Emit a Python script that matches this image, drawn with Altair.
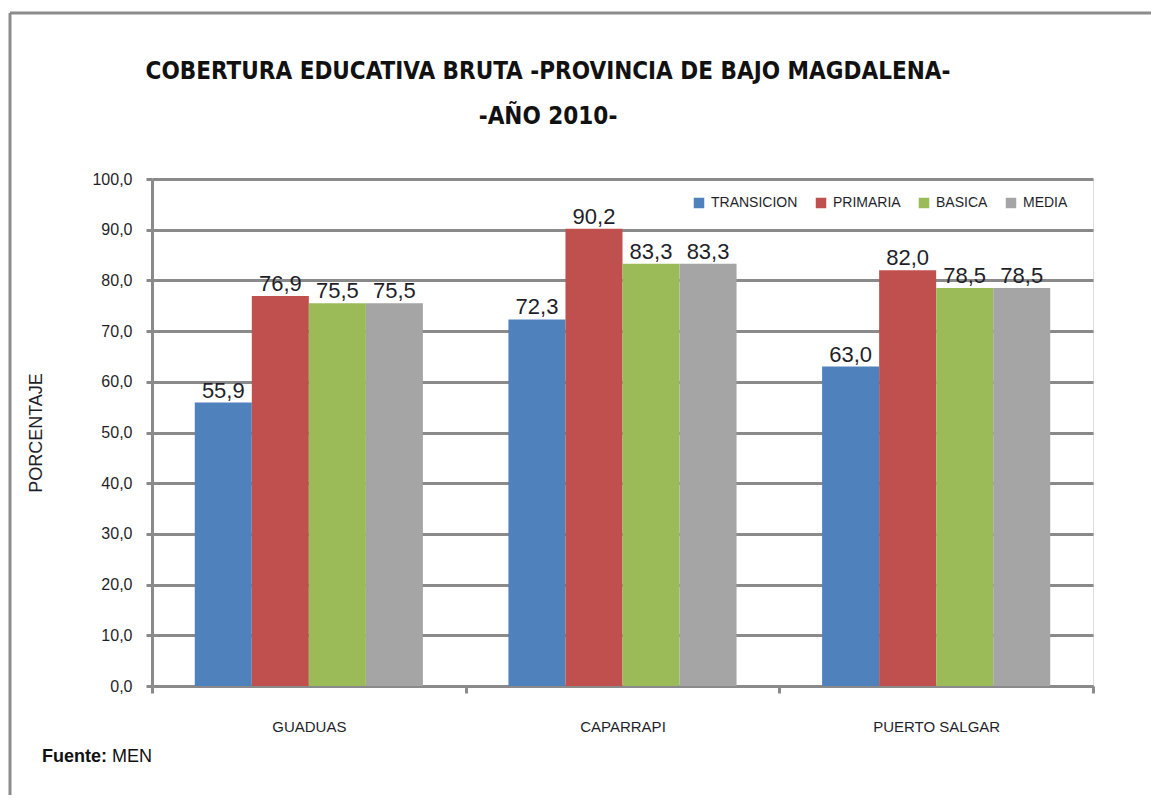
import altair as alt
import pandas as pd

municipios = ["GUADUAS", "CAPARRAPI", "PUERTO SALGAR"]
niveles = ["TRANSICION", "PRIMARIA", "BASICA", "MEDIA"]
transicion = [55.9, 72.3, 63.0]
primaria = [76.9, 90.2, 82.0]
basica = [75.5, 83.3, 78.5]
media = [75.5, 83.3, 78.5]
colores = ["#4F81BD", "#C0504D", "#9BBB59", "#A5A5A5"]
y_ticks = [0, 10, 20, 30, 40, 50, 60, 70, 80, 90, 100]
titulo = ["COBERTURA EDUCATIVA  BRUTA -PROVINCIA  DE BAJO MAGDALENA-", "-AÑO 2010-"]

rows = []
for i, m in enumerate(municipios):
    for n, vals in zip(niveles, [transicion, primaria, basica, media]):
        rows.append({"municipio": m, "nivel": n, "valor": vals[i]})
df = pd.DataFrame(rows)

FONT = "Liberation Sans, sans-serif"
TFONT = "DejaVu Sans Condensed, Liberation Sans, sans-serif"
TXT = "#1f1f2a"
GRID = "#8a8a8a"

base = alt.Chart(df).transform_calculate(
    lbl="replace(format(datum.valor, '.1f'), '.', ',')"
).encode(
    x=alt.X("municipio:N", sort=municipios,
            scale=alt.Scale(paddingInner=0, paddingOuter=0),
            axis=alt.Axis(title=None, labelAngle=0, tickBand="extent",
                          labelFont=FONT, labelFontSize=15, labelColor=TXT,
                          labelPadding=26, tickSize=7, tickColor=GRID, tickWidth=3,
                          domainColor=GRID, domainWidth=3)),
    xOffset=alt.XOffset("nivel:N", sort=niveles,
                        scale=alt.Scale(paddingInner=0, paddingOuter=0.75)),
    y=alt.Y("valor:Q", scale=alt.Scale(domain=[0, 100], nice=False),
            axis=alt.Axis(title="PORCENTAJE", values=y_ticks,
                          labelExpr="replace(format(datum.value, '.1f'), '.', ',')",
                          labelFont=FONT, labelFontSize=16, labelColor=TXT, labelPadding=14,
                          tickSize=6, tickColor=GRID, tickWidth=3,
                          domainColor=GRID, domainWidth=3,
                          grid=True, gridColor=GRID, gridWidth=3,
                          titleFont=FONT, titleFontSize=18, titleFontWeight="normal",
                          titleColor=TXT, titlePadding=46)),
)

bars = base.mark_bar().encode(
    color=alt.Color("nivel:N", sort=niveles,
                    scale=alt.Scale(domain=niveles, range=colores),
                    legend=alt.Legend(title=None, orient="none", legendX=540, legendY=17,
                                      direction="horizontal", columns=4,
                                      symbolType="square", symbolSize=110,
                                      symbolStrokeWidth=0,
                                      labelFont=FONT, labelFontSize=14, labelColor=TXT,
                                      columnPadding=16, labelOffset=5))
)

labels = base.mark_text(baseline="bottom", dy=0, font=FONT, fontSize=22, color=TXT).encode(
    text="lbl:N"
)

one = pd.DataFrame({"a": [0]})
frame_top = alt.Chart(one).mark_rule(color="#8c8c8c", strokeWidth=3).encode(
    x=alt.value(-142), x2=alt.value(1020), y=alt.value(-166))
frame_left = alt.Chart(one).mark_rule(color="#8c8c8c", strokeWidth=3).encode(
    x=alt.value(-142), y=alt.value(-166), y2=alt.value(640))
title1 = alt.Chart(one).mark_text(align="center", baseline="middle", font=TFONT,
                                  fontSize=24, fontWeight="bold", color="#111").encode(
    x=alt.value(396), y=alt.value(-107), text=alt.value(titulo[0]))
title2 = alt.Chart(one).mark_text(align="center", baseline="middle", font=TFONT,
                                  fontSize=24, fontWeight="bold", color="#111").encode(
    x=alt.value(396), y=alt.value(-62), text=alt.value(titulo[1]))
fuente1 = alt.Chart(one).mark_text(align="left", baseline="middle", font=FONT,
                                   fontSize=18, fontWeight="bold", color="#111").encode(
    x=alt.value(-110), y=alt.value(578), text=alt.value("Fuente:"))
fuente2 = alt.Chart(one).mark_text(align="left", baseline="middle", font=FONT,
                                   fontSize=18, color="#111").encode(
    x=alt.value(-40), y=alt.value(578), text=alt.value("MEN"))

chart = alt.layer(frame_top, frame_left, bars, labels, title1, title2,
                  fuente1, fuente2).properties(
    width=941, height=507,
    autosize=alt.AutoSizeParams(type="none"),
    padding={"left": 144, "top": 171, "right": 58, "bottom": 109},
).configure_view(stroke=None).configure(background="white")

chart.save("out.html", embed_options={"renderer": "svg", "actions": False})
